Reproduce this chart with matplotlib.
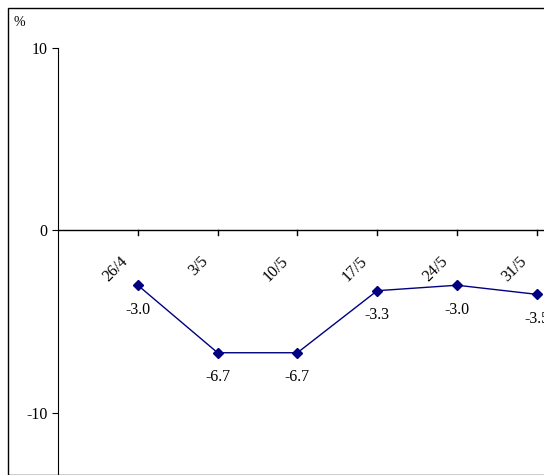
import matplotlib.pyplot as plt
from matplotlib.patches import Rectangle

plt.rcParams['font.family'] = ['Liberation Serif', 'DejaVu Serif']
plt.rcParams['axes.unicode_minus'] = False

dates = ['26/4', '3/5', '10/5', '17/5', '24/5', '31/5']
values = [-3.0, -6.7, -6.7, -3.3, -3.0, -3.5]

fig = plt.figure(figsize=(5.44, 4.75), dpi=100)
fig.patches.append(Rectangle((8 / 544, 0), 1, 1 - 8 / 475, transform=fig.transFigure,
                             fill=False, ec='black', lw=1))
ax = fig.add_axes([58 / 544, 0, 1 - 58 / 544, 1 - 48 / 475])

xs = list(range(1, len(dates) + 1))
ax.plot(xs, values, color='#000080', marker='D', markersize=5, lw=1)
for x, d, v in zip(xs, dates, values):
    ax.text(x, v - 0.9, f'{v:.1f}', ha='center', va='top', fontsize=11.5)
    ax.text(x - 0.22, -1.25, d, ha='right', va='top', rotation=45, fontsize=11.5,
            rotation_mode='anchor')

ax.set_xlim(0, 6.09)
ax.set_ylim(-13.4, 10)
ax.set_yticks([-10, 0, 10])
ax.tick_params(axis='y', labelsize=11.5, direction='out', length=4)
ax.set_xticks([])
ax.axhline(0, color='black', lw=1)
for x in xs:
    ax.plot([x, x], [0, -0.25], color='black', lw=1)
for s in ['top', 'right', 'bottom']:
    ax.spines[s].set_visible(False)
fig.text(14 / 544, 1 - 26 / 475, '%', fontsize=10)

fig.savefig('out.png')
